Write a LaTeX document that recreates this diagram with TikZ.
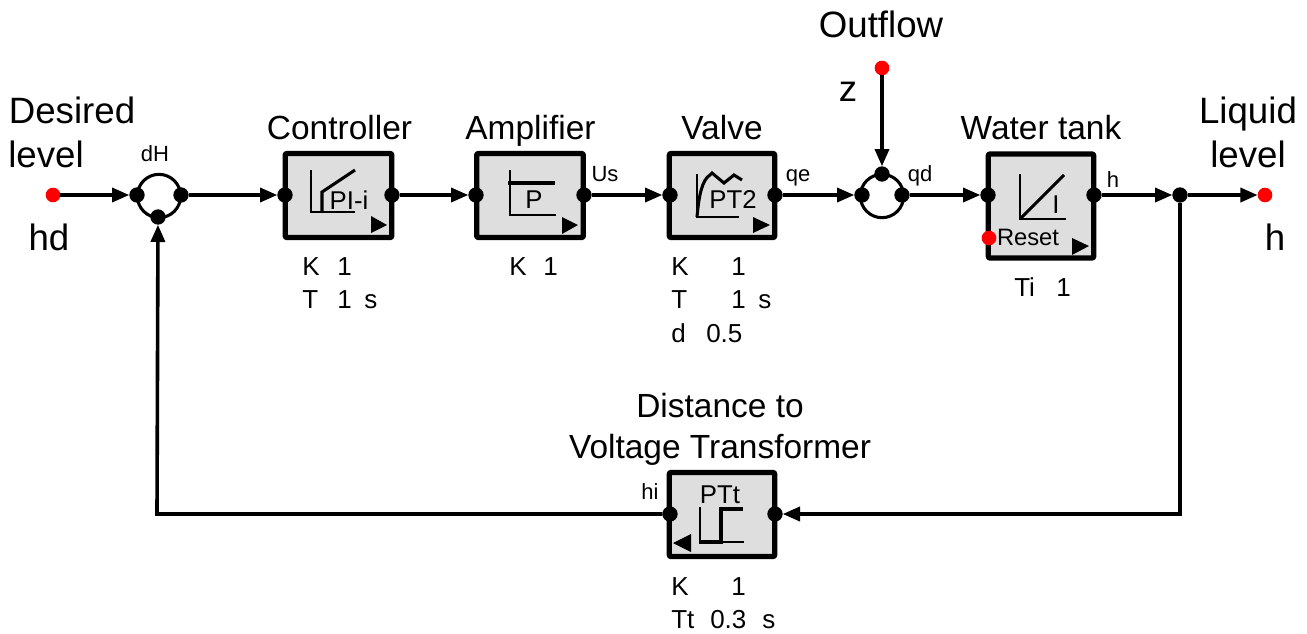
\documentclass[tikz,border=0pt]{standalone}
\usepackage{fontspec}
\setmainfont{Liberation Sans}
\usetikzlibrary{arrows.meta}
\tikzset{
  x=0.75pt,y=-0.75pt,
  plain/.style={line width=2.7pt,draw=black},
  wire/.style={plain,-{Triangle[length=13pt,width=10.5pt]}},
  blockbox/.style={draw=black,fill=black!13,line width=3.9pt,rounded corners=0.8pt,line join=round},
  portdot/.style={circle,fill=black,inner sep=0pt,minimum size=11.5pt,outer sep=0pt},
  reddot/.style={circle,fill=red,inner sep=0pt,minimum size=11pt,outer sep=0pt},
  sumring/.style={circle,draw=black,line width=2.3pt,inner sep=0pt,minimum size=32.5pt},
  big/.style={font=\fontsize{27.5}{31}\selectfont,inner sep=0pt,anchor=base},
  title/.style={font=\fontsize{25.1}{30}\selectfont,inner sep=0pt,anchor=base},
  param/.style={font=\fontsize{19.5}{22}\selectfont,inner sep=0pt,anchor=base west},
  sig/.style={font=\fontsize{16.5}{18}\selectfont,inner sep=0pt,anchor=base},
  icontxt/.style={font=\fontsize{19.3}{22}\selectfont,inner sep=0pt,anchor=base},
  iconline/.style={line width=1.5pt,draw=black},
  iconbold/.style={line width=2.3pt,draw=black},
  dirmark/.style={fill=black,draw=none},
}
\begin{document}
\begin{tikzpicture}
\useasboundingbox (0,0) rectangle (1307,633);
% blocks
\node[blockbox,minimum width=80pt,minimum height=63pt,inner sep=0pt] (b1) at (338.5,195.5) {};
\node[blockbox,minimum width=80pt,minimum height=63pt,inner sep=0pt] (b2) at (530,195.5) {};
\node[blockbox,minimum width=79pt,minimum height=63pt,inner sep=0pt] (b3) at (722,195.5) {};
\node[blockbox,minimum width=79pt,minimum height=78pt,inner sep=0pt] (b4) at (1041,206) {};
\node[blockbox,minimum width=79pt,minimum height=63pt,inner sep=0pt] (b5) at (722,514.5) {};
% sums
\node[sumring] (s1) at (159,196) {};
\node[sumring] (s2) at (882,196) {};
% dots
\node[reddot] (hd) at (53,195) {};
\node[reddot] (hout) at (1265,195) {};
\node[reddot] (z) at (882,68) {};
\node[portdot] (s1l) at (137,195) {};
\node[portdot] (s1r) at (181,195) {};
\node[portdot] (s1b) at (158,217) {};
\node[portdot] (s2l) at (862,195) {};
\node[portdot] (s2r) at (902,195) {};
\node[portdot] (s2t) at (882,174) {};
\node[portdot] (b1i) at (285,195) {};
\node[portdot] (b1o) at (392,195) {};
\node[portdot] (b2i) at (476,195) {};
\node[portdot] (b2o) at (584,195) {};
\node[portdot] (b3i) at (670,195) {};
\node[portdot] (b3o) at (775,195) {};
\node[portdot] (b4i) at (988,195) {};
\node[portdot] (b4o) at (1094,195) {};
\node[portdot] (br) at (1180,195) {};
\node[portdot] (b5i) at (670,514) {};
\node[portdot] (b5o) at (775,514) {};
\node[reddot] (rst) at (989,238) {};
\coordinate (c1) at (1180,514);
\coordinate (c2) at (157,514);
% connectors
\draw[wire] (hd) -- (s1l);
\draw[wire] (s1r) -- (b1i);
\draw[wire] (b1o) -- (b2i);
\draw[wire] (b2o) -- (b3i);
\draw[wire] (b3o) -- (s2l);
\draw[wire] (s2r) -- (b4i);
\draw[wire] (b4o) -- (br);
\draw[wire] (br) -- (hout);
\draw[wire] (z) -- (s2t);
\draw[wire] (br) -- (c1) -- (b5o);
\draw[wire] (b5i) -- (c2) -- (s1b);
% icon 1
\draw[iconline] (311,170) -- (311,212) -- (355,212);
\draw[iconbold] (322,212) -- (322,192) -- (355,170);
\node[icontxt] (t1) at (349,209) {PI-i};
\fill[dirmark] (371,216) -- (387,225) -- (371,233) -- cycle;
% icon 2
\draw[iconline] (510,170) -- (510,215) -- (556,215);
\draw[iconbold] (508,183) -- (555,183);
\node[icontxt] (t2) at (534,208) {P};
\fill[dirmark] (562,217) -- (578,225) -- (562,234) -- cycle;
% icon 3
\draw[iconline] (697,174) -- (697,217) -- (739,217);
\draw[iconbold] (697,217) .. controls (699,195) and (702,180) .. (710,175) -- (712,173) -- (724,183) -- (734,175) -- (742,180);
\node[icontxt] (t3) at (733,208) {PT2};
\fill[dirmark] (753,217) -- (770,225) -- (753,233) -- cycle;
% icon 4
\draw[iconline] (1020,174) -- (1020,219) -- (1066,219);
\draw[iconbold] (1020,219) -- (1064,175);
\node[icontxt] (t4) at (1056,213) {I};
\node[font=\fontsize{17.8}{20}\selectfont,inner sep=0pt,anchor=base] (t4b) at (1028,245) {Reset};
\fill[dirmark] (1072,238) -- (1089,246) -- (1072,255) -- cycle;
% icon 5
\draw[iconline] (700,507) -- (700,542) -- (744,542);
\draw[iconbold] (699,542) -- (721,542) -- (721,509) -- (743,509);
\node[icontxt] (t5) at (720,503) {PTt};
\fill[dirmark] (691,534) -- (691,552) -- (673,543) -- cycle;
% labels
\node[big] (l1) at (72,123) {Desired};
\node[big] (l2) at (46,167) {level};
\node[big] (l3) at (49,250) {hd};
\node[big] (l4) at (881,37) {Outflow};
\node[big] (l5) at (848,101) {z};
\node[big] (l6) at (1248,123) {Liquid};
\node[big] (l7) at (1248,167) {level};
\node[big] (l8) at (1275,250) {h};
\node[title] (m1) at (339.5,139) {Controller};
\node[title] (m2) at (530.5,139) {Amplifier};
\node[title] (m3) at (722,139) {Valve};
\node[title] (m4) at (1041,139) {Water tank};
\node[title] (m5) at (720,417) {Distance to};
\node[title] (m6) at (720,458) {Voltage Transformer};
% signals
\node[sig] (q1) at (155,161) {dH};
\node[sig] (q2) at (605,181) {Us};
\node[sig] (q3) at (798,181) {qe};
\node[sig] (q4) at (920,181) {qd};
\node[sig] (q5) at (1113,187) {h};
\node[sig] (q6) at (650,499) {hi};
% params
\node[param] (p1) at (302,275) {K};
\node[param] (p1b) at (337,275) {1};
\node[param] (p2) at (302,308) {T};
\node[param] (p2b) at (337,308) {1};
\node[param] (p2c) at (364,308) {s};
\node[param] (p3) at (509,275) {K};
\node[param] (p3b) at (543,275) {1};
\node[param] (p4) at (671,275) {K};
\node[param] (p4b) at (731,275) {1};
\node[param] (p5) at (671,308) {T};
\node[param] (p5b) at (731,308) {1};
\node[param] (p5c) at (758,308) {s};
\node[param] (p6) at (671,342) {d};
\node[param] (p6b) at (706,342) {0.5};
\node[param] (p7) at (1014,296) {Ti};
\node[param] (p7b) at (1056,296) {1};
\node[param] (p8) at (671,595) {K};
\node[param] (p8b) at (731,595) {1};
\node[param] (p9) at (671,628) {Tt};
\node[param] (p9b) at (710,628) {0.3};
\node[param] (p9c) at (762,628) {s};
\end{tikzpicture}
\end{document}
